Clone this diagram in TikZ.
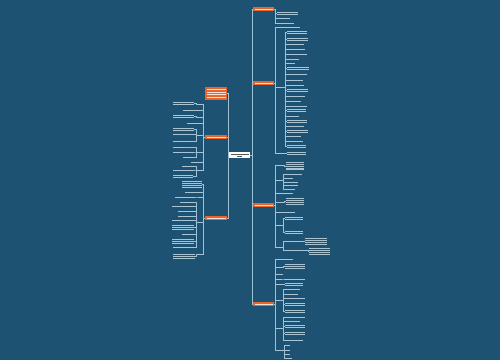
\documentclass[tikz,border=0pt]{standalone}
\usetikzlibrary{calc}
\definecolor{bg}{HTML}{1E5273}
\definecolor{ln}{HTML}{9DC2D6}
\definecolor{tx}{HTML}{A9C4D3}
\definecolor{og}{HTML}{E7642C}
\tikzset{
 box/.style={inner sep=0pt, outer sep=0pt, anchor=west},
 conn/.style={draw=ln, line width=0.5pt},
 txt/.style={fill=tx},
 otxt/.style={fill=white!80!og},
 ctxt/.style={fill=black!65},
 obox/.style={box, fill=og},
 cbox/.style={box, fill=white},
}
\newcommand\leaf[5]{%
 \node[box, minimum width=#4pt, minimum height=#5*1.9pt] (#1) at (#2,#3) {};
 \foreach \ii in {1,...,#5}{%
  \fill[txt] ([yshift={-(\ii-0.5)*1.9pt+0.4pt}]#1.north west) rectangle ([yshift={-(\ii-0.5)*1.9pt-0.4pt}]#1.north east);}%
}
\newcommand\onode[5]{%
 \node[obox, minimum width=#4pt, minimum height=#5*2.6pt+1.8pt] (#1) at (#2,#3) {};
 \foreach \ii in {1,...,#5}{%
  \fill[otxt] ([xshift=1.5pt,yshift={-0.9pt-(\ii-0.5)*2.6pt+0.5pt}]#1.north west) rectangle ([xshift=-1.5pt,yshift={-0.9pt-(\ii-0.5)*2.6pt-0.5pt}]#1.north east);}%
}
\newcommand\rc[3]{\foreach \cc in {#3}{\draw[conn] (#1.east) -- ++(#2,0) |- (\cc.west);}}
\newcommand\lc[3]{\foreach \cc in {#3}{\draw[conn] (#1.west) -- ++(-#2,0) |- (\cc.east);}}
\begin{document}
\begin{tikzpicture}[x=1pt,y=-1pt]
\fill[bg] (0,0) rectangle (500,360);
\useasboundingbox (0,0) rectangle (500,360);
% central
\node[cbox, minimum width=21pt, minimum height=6.5pt] (c) at (229,155) {};
\fill[ctxt] ([xshift=1.5pt,yshift=-1.8pt]c.north west) rectangle ([xshift=-1.5pt,yshift=-2.7pt]c.north east);
\fill[ctxt] ([xshift=8pt,yshift=-4.0pt]c.north west) rectangle ([xshift=-8pt,yshift=-4.9pt]c.north east);
% main branches
\onode{r1}{253}{9}{21}{1}
\onode{r2}{253}{83}{21}{1}
\onode{r3}{253}{205}{21}{1}
\onode{r4}{253}{304}{21}{1}
\onode{l1}{205}{93.5}{22}{4}
\onode{l2}{205}{137}{22}{1}
\onode{l3}{205}{218}{22}{1}
\rc{c}{2}{r1,r2,r3,r4}
\lc{c}{1}{l1,l2,l3}
% R1
\leaf{a1}{277}{13}{21}{2}
\leaf{a2}{277}{18}{13}{1}
\leaf{a3}{277}{23}{17}{1}
\rc{r1}{1.5}{a1,a2,a3}
% R2
\leaf{b0}{277}{27.5}{23}{1}
\leaf{b1}{277}{87}{6}{1}
\leaf{b2}{277}{153}{6}{1}
\rc{r2}{1.5}{b0,b1,b2}
\foreach \yy/\ww/\nl [count=\n] in {32.5/20/2, 39/21/2, 44.5/17/1, 49/18/1, 54/20/1, 59/12/1, 63.5/8/1, 68.5/22/2, 74.5/20/1, 80/16/1, 85/17/1, 90.5/21/2, 96/18/1, 101/14/1, 106/20/1, 110.5/19/2, 116/12/1, 121.5/20/2, 126.5/17/1, 131.5/21/2, 136.5/14/1, 141.5/16/1, 146.5/19/2}{
 \leaf{bb\n}{287}{\yy}{\ww}{\nl}
 \draw[conn] (b1.east) -- ++(2,0) |- (bb\n.west);
}
\leaf{b2a}{287}{153.5}{19}{2}
\rc{b2}{2}{b2a}
% R3
\leaf{c1}{278}{165}{5}{1}
\leaf{c1a}{286}{166}{18}{5}
\rc{c1}{1.5}{c1a}
\leaf{c2}{277}{180}{4}{1}
\leaf{c2a}{285}{174}{17}{1}
\leaf{c2b}{285}{178}{8}{1}
\leaf{c2c}{285}{182}{13}{1}
\leaf{c2d}{285}{185.5}{13}{1}
\leaf{c2e}{285}{189}{10}{1}
\rc{c2}{2.5}{c2a,c2b,c2c,c2d,c2e}
\leaf{c3}{278}{193}{15}{1}
\leaf{c4}{278}{202}{5}{1}
\leaf{c4a}{286}{201.5}{18}{4}
\rc{c4}{1.5}{c4a}
\leaf{c5}{278}{212}{17}{1}
\leaf{c6}{278}{225}{4}{1}
\leaf{c6a}{285}{218.5}{18}{2}
\leaf{c6b}{285}{232.5}{18}{2}
\rc{c6}{1.5}{c6a,c6b}
\leaf{c7}{278}{247}{4}{1}
\leaf{c7a}{285}{241}{18}{1}
\leaf{c7b}{285}{250}{22}{1}
\rc{c7}{1.5}{c7a,c7b}
\leaf{c7a1}{305}{241.5}{22}{4}
\leaf{c7b1}{309}{251.5}{21}{4}
\rc{c7a}{1}{c7a1}
\rc{c7b}{1}{c7b1}
\rc{r3}{1.5}{c1,c2,c3,c4,c5,c6,c7}
% R4
\leaf{d1}{278}{259}{15}{1}
\leaf{d2}{278}{267}{4}{1}
\leaf{d2a}{285}{266.5}{20}{3}
\rc{d2}{1.5}{d2a}
\leaf{d3}{277}{274}{6}{1}
\leaf{d4}{277}{279}{5}{1}
\leaf{d4a}{285}{279}{20}{1}
\rc{d4}{1.5}{d4a}
\leaf{d5}{277}{284.5}{5}{1}
\leaf{d5a}{285}{284.5}{18}{2}
\rc{d5}{1.5}{d5a}
\leaf{d6}{277}{300}{5}{1}
\leaf{d6a}{285}{289.5}{15}{1}
\leaf{d6b}{285}{294}{13}{1}
\leaf{d6c}{285}{298.5}{20}{1}
\leaf{d6d}{285}{304.5}{20}{2}
\leaf{d6e}{285}{311}{20}{2}
\rc{d6}{1.5}{d6a,d6b,d6c,d6d,d6e}
\leaf{d7}{277}{328}{5}{1}
\leaf{d7a}{285}{317}{20}{1}
\leaf{d7b}{285}{321}{15}{1}
\leaf{d7c}{285}{326.5}{20}{2}
\leaf{d7d}{285}{333.5}{20}{2}
\leaf{d7e}{285}{340}{18}{1}
\rc{d7}{1.5}{d7a,d7b,d7c,d7d,d7e}
\leaf{d8}{277}{350}{6}{1}
\leaf{d8a}{285}{345}{5}{1}
\leaf{d8b}{285}{350}{5}{1}
\leaf{d8c}{285}{354.5}{5}{1}
\leaf{d8d}{285}{358.5}{7}{1}
\rc{d8}{1}{d8a,d8b,d8c,d8d}
\rc{r4}{1.5}{d1,d2,d3,d4,d5,d6,d7,d8}
% L2
\leaf{e1}{198}{104}{4}{1}
\leaf{e1a}{173}{103.5}{21}{2}
\lc{e1}{2}{e1a}
\leaf{e2}{183}{110}{19}{1}
\leaf{e3}{198}{117}{4}{1}
\leaf{e3a}{173}{116.5}{21}{2}
\lc{e3}{2}{e3a}
\leaf{e4}{187}{123}{15}{1}
\leaf{e5}{198}{135}{4}{1}
\leaf{e5a}{173}{129.5}{21}{2}
\leaf{e5b}{173}{134.5}{21}{1}
\leaf{e5c}{173}{141}{19}{1}
\lc{e5}{2}{e5a,e5b,e5c}
\leaf{e6}{198}{152}{4}{1}
\leaf{e6a}{173}{147}{10}{1}
\leaf{e6b}{173}{152}{20}{1}
\leaf{e6c}{183}{157}{9}{1}
\lc{e6}{2}{e6a,e6b,e6c}
\leaf{e7}{191}{162}{11}{1}
\leaf{e8}{198}{170}{4}{1}
\leaf{e8a}{182}{166}{10}{1}
\leaf{e8b}{173}{170}{20}{1}
\leaf{e8c}{173}{176.5}{20}{2}
\lc{e8}{2}{e8a,e8b,e8c}
\lc{l2}{1.5}{e1,e2,e3,e4,e5,e6,e7,e8}
% L3
\leaf{f1}{182}{184.5}{20}{4}
\leaf{f2}{185}{192}{17}{1}
\leaf{f3}{198}{197}{4}{1}
\leaf{f3a}{175}{197}{20}{1}
\lc{f3}{2}{f3a}
\leaf{f4}{198}{222}{4}{1}
\leaf{f4a}{180}{202}{14}{1}
\leaf{f4b}{172}{206}{22}{1}
\leaf{f4c}{178}{211}{16}{1}
\leaf{f4d}{178}{216}{16}{1}
\leaf{f4e}{172}{220}{22}{1}
\leaf{f4f}{172}{227}{22}{3}
\leaf{f4g}{182}{234}{12}{1}
\leaf{f4h}{172}{241.5}{22}{3}
\leaf{f4i}{173}{247}{21}{1}
\lc{f4}{2}{f4a,f4b,f4c,f4d,f4e,f4f,f4g,f4h,f4i}
\leaf{f5}{198}{254}{4}{1}
\leaf{f5a}{173}{256.5}{22}{3}
\lc{f5}{2}{f5a}
\lc{l3}{1.5}{f1,f2,f3,f4,f5}
\end{tikzpicture}
\end{document}
